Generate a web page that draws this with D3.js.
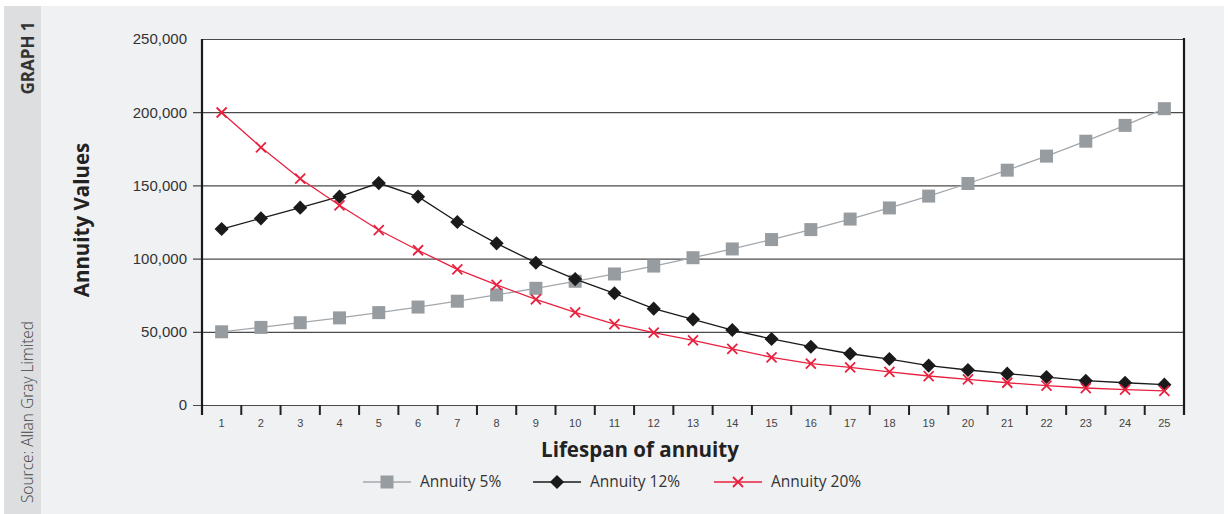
<!DOCTYPE html>
<html lang="en">
<head>
<meta charset="UTF-8">
<title>Graph 1 - Annuity values</title>
<style>
  body { margin: 0; background: #fff; font-family: "Open Sans", "Noto Sans", sans-serif; }
  .grid line { stroke: #4a4a4a; stroke-width: 1.2px; }
  .ytick text { fill: #333; font-size: 15px; }
  .xtick text { fill: #444; font-size: 11px; }
</style>
</head>
<body>
<div id="chart"></div>
<script src="https://d3js.org/d3.v7.min.js"></script>
<script>
var years = d3.range(1, 26).map(String);
var yTicks = [0, 50000, 100000, 150000, 200000, 250000];

var annuity5 = [50000, 53000, 56200, 59500, 63100, 66900, 70900, 75200, 79700, 84500,
                89500, 94900, 100600, 106600, 113000, 119800, 127000, 134600, 142700, 151300,
                160400, 170000, 180200, 191000, 202400];
var annuity12 = [120200, 127500, 134800, 142300, 151600, 142300, 125000, 110400, 97200, 86000,
                 76300, 65800, 58500, 51200, 45100, 39800, 35000, 31400, 26900, 23900,
                 21400, 19100, 16600, 15200, 13900];
var annuity20 = [199800, 176000, 154600, 136400, 119500, 105700, 92700, 82000, 72200, 63300,
                 55300, 49400, 44200, 38300, 32600, 28200, 25700, 22600, 19800, 17500,
                 15200, 13200, 11600, 10500, 9600];

var seriesNames = ["Annuity 5%", "Annuity 12%", "Annuity 20%"];

var width = 1228, height = 514;
var plotLeft = 202, plotRight = 1184, plotTop = 39, plotBottom = 405;

var svg = d3.select("#chart").append("svg")
    .attr("width", width)
    .attr("height", height);

// panel backgrounds
svg.append("rect").attr("x", 4).attr("y", 6).attr("width", 1220).attr("height", 508).attr("fill", "#f0f1f3");
svg.append("rect").attr("x", 4).attr("y", 6).attr("width", 37).attr("height", 508).attr("fill", "#dcdee0");

svg.append("text")
    .attr("transform", "translate(34,58) rotate(-90)")
    .attr("text-anchor", "middle")
    .attr("font-size", 17).attr("font-weight", 700).attr("fill", "#333")
    .text("GRAPH 1");

svg.append("text")
    .attr("transform", "translate(33,412) rotate(-90)")
    .attr("text-anchor", "middle")
    .attr("font-size", 15.5).attr("font-weight", 300).attr("fill", "#444")
    .text("Source: Allan Gray Limited");

var x = d3.scaleBand().domain(years).range([plotLeft, plotRight]).padding(0);
var y = d3.scaleLinear().domain([0, 250000]).range([plotBottom, plotTop]);
var plotW = plotRight - plotLeft;

svg.append("rect")
    .attr("x", plotLeft).attr("y", plotTop)
    .attr("width", plotW).attr("height", plotBottom - plotTop)
    .attr("fill", "#fff");

// gridlines + y ticks
var yAxis = d3.axisLeft(y)
    .tickValues(yTicks)
    .tickSize(0)
    .tickPadding(0)
    .tickFormat(d3.format(","));

var gy = svg.append("g")
    .attr("class", "grid ytick")
    .attr("transform", "translate(" + plotLeft + ",0)")
    .call(yAxis);
gy.select(".domain").remove();
gy.selectAll("text").attr("x", -15);
gy.selectAll("line").attr("x1", -9).attr("x2", plotW);
gy.selectAll(".tick").filter(function(d) { return d === 250000; }).select("line").attr("x1", 0).attr("stroke", "#8a8a8a");

// x labels
var xAxis = d3.axisBottom(x).tickSize(0).tickPadding(14);
var gx = svg.append("g")
    .attr("class", "xtick")
    .attr("transform", "translate(0," + plotBottom + ")")
    .call(xAxis);
gx.select(".domain").remove();

// x boundary ticks
var bounds = years.map(function(d) { return x(d); }).concat([plotRight]);
svg.append("g").selectAll("line")
    .data(bounds)
    .enter().append("line")
    .attr("x1", function(d) { return d; }).attr("x2", function(d) { return d; })
    .attr("y1", plotBottom).attr("y2", plotBottom + 10)
    .attr("stroke", "#222").attr("stroke-width", 2);

// y axis line and right border
svg.append("line").attr("x1", plotLeft).attr("x2", plotLeft).attr("y1", plotTop).attr("y2", plotBottom + 10)
    .attr("stroke", "#1a1a1a").attr("stroke-width", 2.2);
svg.append("line").attr("x1", plotRight).attr("x2", plotRight).attr("y1", plotTop - 1).attr("y2", plotBottom + 10)
    .attr("stroke", "#1a1a1a").attr("stroke-width", 2.2);

var cx = function(i) { return x(years[i]) + x.bandwidth() / 2; };

var series = [
  { name: seriesNames[0], values: annuity5, line: "#a3a7ab", fill: "#979ca1", shape: "square" },
  { name: seriesNames[1], values: annuity12, line: "#1a1a1a", fill: "#1a1a1a", shape: "diamond" },
  { name: seriesNames[2], values: annuity20, line: "#e8213f", fill: "#e8213f", shape: "x" }
];

function marker(g, s) {
  if (s.shape === "square") {
    g.append("rect").attr("x", -6.5).attr("y", -6.5).attr("width", 13).attr("height", 13).attr("fill", s.fill);
  } else if (s.shape === "diamond") {
    g.append("rect").attr("x", -5).attr("y", -5).attr("width", 10).attr("height", 10)
      .attr("transform", "rotate(45)").attr("fill", s.fill);
  } else {
    g.append("path").attr("d", "M-5,-5L5,5M-5,5L5,-5")
      .attr("stroke", s.fill).attr("stroke-width", 1.8).attr("fill", "none");
  }
}

var line = d3.line()
    .x(function(d, i) { return cx(i); })
    .y(function(d) { return y(d); });

series.forEach(function(s) {
  svg.append("path")
      .datum(s.values)
      .attr("d", line)
      .attr("fill", "none")
      .attr("stroke", s.line)
      .attr("stroke-width", 1.3);

  svg.append("g").selectAll("g")
      .data(s.values)
      .enter().append("g")
      .attr("transform", function(d, i) { return "translate(" + cx(i) + "," + y(d) + ")"; })
      .each(function() { marker(d3.select(this), s); });
});

// axis titles
svg.append("text")
    .attr("transform", "translate(89,220) rotate(-90)")
    .attr("text-anchor", "middle")
    .attr("font-size", 20.5).attr("font-weight", 700).attr("fill", "#222")
    .text("Annuity Values");

svg.append("text")
    .attr("x", 640).attr("y", 457)
    .attr("text-anchor", "middle")
    .attr("font-size", 20.5).attr("font-weight", 700).attr("fill", "#222")
    .text("Lifespan of annuity");

// legend
var legendX = [363, 533, 714];
series.forEach(function(s, i) {
  var g = svg.append("g").attr("transform", "translate(" + legendX[i] + ",482)");
  g.append("line").attr("x1", 0).attr("x2", 48).attr("y1", 0).attr("y2", 0)
    .attr("stroke", s.line).attr("stroke-width", 1.3);
  var m = g.append("g").attr("transform", "translate(24,0)");
  marker(m, s);
  g.append("text").attr("x", 57).attr("y", 5)
    .attr("font-size", 15.5).attr("fill", "#333")
    .text(s.name);
});
</script>
</body>
</html>
